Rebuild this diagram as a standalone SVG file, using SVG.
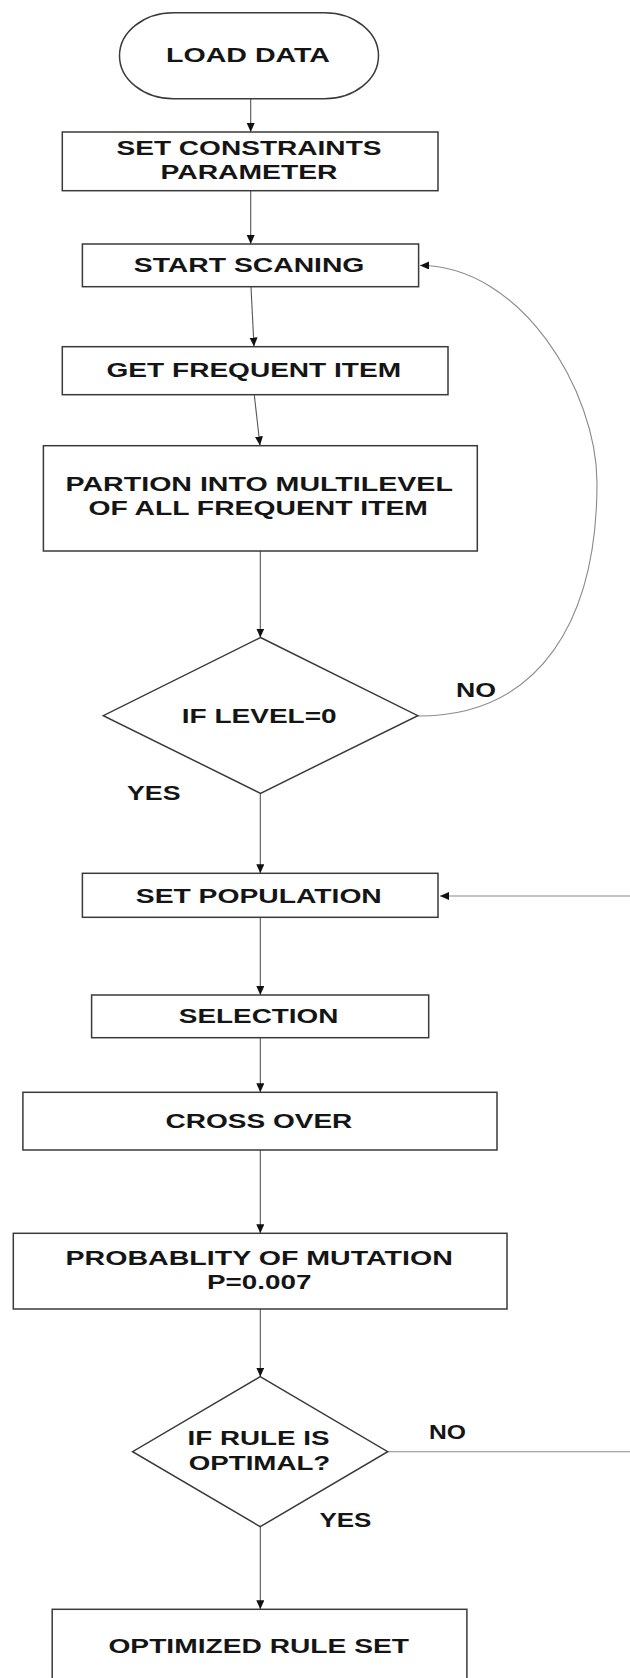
<svg xmlns="http://www.w3.org/2000/svg" width="630" height="1678" viewBox="0 0 630 1678">
<style>
.n{fill:#fff;stroke:#3a3a3a;stroke-width:1.5}
.t{font-family:"Liberation Sans",Arial,sans-serif;font-weight:bold;font-size:20px;fill:#151515;text-anchor:middle}
.l{font-family:"Liberation Sans",Arial,sans-serif;font-weight:bold;font-size:20px;fill:#151515}
.c{fill:none;stroke:#555;stroke-width:1.1}
.cl{fill:none;stroke:#8a8a8a;stroke-width:1.1}
</style>
<defs>
<marker id="ah" markerWidth="10" markerHeight="10" refX="9" refY="4" orient="auto" markerUnits="userSpaceOnUse">
<path d="M0,0 L9,4 L0,8 Z" fill="#111"/>
</marker>
</defs>
<rect width="630" height="1678" fill="#fff"/>
<g id="connectors">
<path class="c" d="M250.7,98.7 L250.7,132" marker-end="url(#ah)"/>
<path class="c" d="M250.7,190.7 L250.7,244" marker-end="url(#ah)"/>
<path class="c" d="M251,287 L254,346.5" marker-end="url(#ah)"/>
<path class="c" d="M254.3,395 L260,445.5" marker-end="url(#ah)"/>
<path class="c" d="M260.3,551 L260.3,637.5" marker-end="url(#ah)"/>
<path class="c" d="M260.3,793.3 L260.3,873.3" marker-end="url(#ah)"/>
<path class="c" d="M260.3,917.3 L260.3,995" marker-end="url(#ah)"/>
<path class="c" d="M260.3,1037.7 L260.3,1092.3" marker-end="url(#ah)"/>
<path class="c" d="M260.3,1150 L260.3,1233.3" marker-end="url(#ah)"/>
<path class="c" d="M260.3,1309 L260.3,1376.7" marker-end="url(#ah)"/>
<path class="c" d="M260.3,1526.7 L260.3,1609.3" marker-end="url(#ah)"/>
<path class="cl" d="M418,716 C540,716 597,620 597,483 C597,390 520,265 420,265.5" marker-end="url(#ah)"/>
<path class="cl" d="M387.7,1451.7 L630,1451.7"/>
<path class="cl" d="M630,896 L440,896" marker-end="url(#ah)"/>
</g>
<g id="load-data">
<rect class="n" x="119.5" y="12.7" width="259" height="86" rx="54" ry="43"/>
<text class="t" x="248" y="61.5" textLength="164" lengthAdjust="spacingAndGlyphs">LOAD DATA</text>
</g>
<g id="set-constraints">
<rect class="n" x="62.3" y="132" width="375.7" height="58.7"/>
<text class="t" x="249" y="155" textLength="265" lengthAdjust="spacingAndGlyphs">SET CONSTRAINTS</text>
<text class="t" x="249" y="179.3" textLength="177" lengthAdjust="spacingAndGlyphs">PARAMETER</text>
</g>
<g id="start-scaning">
<rect class="n" x="82.4" y="244" width="336.2" height="42.7"/>
<text class="t" x="249.1" y="271.7" textLength="230.6" lengthAdjust="spacingAndGlyphs">START SCANING</text>
</g>
<g id="get-frequent">
<rect class="n" x="62.3" y="346.7" width="385.7" height="48"/>
<text class="t" x="253.8" y="377.3" textLength="294.5" lengthAdjust="spacingAndGlyphs">GET FREQUENT ITEM</text>
</g>
<g id="partion">
<rect class="n" x="43.4" y="445.7" width="433.9" height="105.3"/>
<text class="t" x="259.2" y="491" textLength="387.3" lengthAdjust="spacingAndGlyphs">PARTION INTO MULTILEVEL</text>
<text class="t" x="258.2" y="515" textLength="339.5" lengthAdjust="spacingAndGlyphs">OF ALL FREQUENT ITEM</text>
</g>
<g id="if-level">
<polygon class="n" points="260.5,637.5 417.8,715.7 260.5,793.3 103.3,715.7"/>
<text class="t" x="259.2" y="723.3" textLength="155" lengthAdjust="spacingAndGlyphs">IF LEVEL=0</text>
<text class="l" x="456" y="696.7" textLength="40" lengthAdjust="spacingAndGlyphs">NO</text>
<text class="l" x="127" y="800" textLength="53.5" lengthAdjust="spacingAndGlyphs">YES</text>
</g>
<g id="set-population">
<rect class="n" x="82.4" y="873.3" width="355.6" height="44"/>
<text class="t" x="258.8" y="902.7" textLength="246" lengthAdjust="spacingAndGlyphs">SET POPULATION</text>
</g>
<g id="selection">
<rect class="n" x="91.6" y="995" width="337.1" height="42.7"/>
<text class="t" x="258.6" y="1023.3" textLength="159.5" lengthAdjust="spacingAndGlyphs">SELECTION</text>
</g>
<g id="cross-over">
<rect class="n" x="22.9" y="1092.3" width="474.1" height="57.7"/>
<text class="t" x="258.9" y="1128.3" textLength="186.8" lengthAdjust="spacingAndGlyphs">CROSS OVER</text>
</g>
<g id="mutation">
<rect class="n" x="13.3" y="1233.3" width="493.7" height="75.7"/>
<text class="t" x="259.2" y="1265" textLength="387.3" lengthAdjust="spacingAndGlyphs">PROBABLITY OF MUTATION</text>
<text class="t" x="259.2" y="1289" textLength="104.4" lengthAdjust="spacingAndGlyphs">P=0.007</text>
</g>
<g id="if-rule">
<polygon class="n" points="260.2,1376.7 387.7,1451.7 260.2,1526.7 132.6,1451.7"/>
<text class="t" x="258.5" y="1445" textLength="141.8" lengthAdjust="spacingAndGlyphs">IF RULE IS</text>
<text class="t" x="259.5" y="1470" textLength="141.5" lengthAdjust="spacingAndGlyphs">OPTIMAL?</text>
<text class="l" x="429" y="1439" textLength="37" lengthAdjust="spacingAndGlyphs">NO</text>
<text class="l" x="319.4" y="1527.3" textLength="52" lengthAdjust="spacingAndGlyphs">YES</text>
</g>
<g id="optimized">
<rect class="n" x="52.2" y="1609.3" width="414.7" height="90"/>
<text class="t" x="258.7" y="1652.7" textLength="300.5" lengthAdjust="spacingAndGlyphs">OPTIMIZED RULE SET</text>
</g>
</svg>
